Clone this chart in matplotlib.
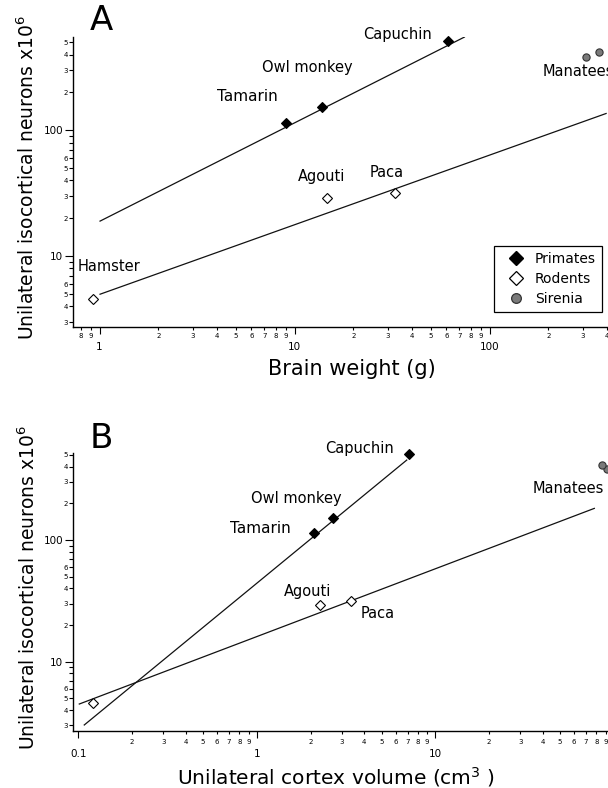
import numpy as np
import matplotlib
matplotlib.use('Agg')
import matplotlib.pyplot as plt
from matplotlib.ticker import FixedLocator, FuncFormatter
from matplotlib.lines import Line2D

plt.rcParams['font.family'] = ['DejaVu Sans']
plt.rcParams['mathtext.default'] = 'regular'

W, H = 608, 788

# ---------------- data ----------------
primate_names = ['Tamarin', 'Owl monkey', 'Capuchin']
rodent_names = ['Hamster', 'Agouti', 'Paca']
sirenia_names = ['Manatee 1', 'Manatee 2']

primate_neurons = [114, 153, 512]
rodent_neurons = [4.6, 29.0, 31.5]
sirenia_neurons = [385, 417]

primate_brain = [9.0, 13.8, 61.5]
rodent_brain = [0.93, 14.7, 32.8]
sirenia_brain = [312, 365]

primate_cortex = [2.09, 2.66, 7.12]
rodent_cortex = [0.121, 2.26, 3.36]
sirenia_cortex = [91.3, 86.2]

# fitted regression lines (end points)
fitA_primate_x = [1.006, 74.3]
fitA_primate_y = [19.0, 550.0]
fitA_rodent_x = [1.006, 396.0]
fitA_rodent_y = [4.99, 136.0]
fitB_primate_x = [0.108, 6.92]
fitB_primate_y = [3.02, 454.0]
fitB_rodent_x = [0.1013, 77.8]
fitB_rodent_y = [4.49, 182.0]

legend_labels = ['Primates', 'Rodents', 'Sirenia']

# ---------------- figure ----------------
fig = plt.figure(figsize=(W / 100, H / 100), dpi=100)


def px_rect(l, t, r, b):
    return [l / W, 1 - b / H, (r - l) / W, (b - t) / H]


decades = 10.0 ** np.arange(-2, 4)
minor_vals = [d * s for d in decades for s in range(2, 10)]


def minor_fmt(allowed):
    def f(v, pos):
        e = np.floor(np.log10(v) + 1e-9)
        d = int(round(v / 10 ** e))
        return str(d) if d in allowed else ''
    return FuncFormatter(f)


def style_axes(ax, xlim, ylim, x_minor_allowed, y_minor_allowed,
               xmaj_pad=5.5, xmin_pad=1.5):
    ax.set_xscale('log')
    ax.set_yscale('log')
    ax.set_xlim(*xlim)
    ax.set_ylim(*ylim)
    for s in ['top', 'right']:
        ax.spines[s].set_visible(False)
    for s in ['left', 'bottom']:
        ax.spines[s].set_linewidth(1.0)
    for axis in (ax.xaxis, ax.yaxis):
        axis.set_major_locator(FixedLocator(decades))
        axis.set_minor_locator(FixedLocator(minor_vals))
        axis.set_major_formatter(FuncFormatter(lambda v, p: f'{v:g}'))
    ax.xaxis.set_minor_formatter(minor_fmt(x_minor_allowed))
    ax.yaxis.set_minor_formatter(minor_fmt(y_minor_allowed))
    ax.tick_params(axis='x', which='major', length=5, width=0.8, pad=xmaj_pad,
                   labelsize=7.5, direction='out')
    ax.tick_params(axis='x', which='minor', length=2.5, width=0.8, pad=xmin_pad,
                   labelsize=5, direction='out')
    ax.tick_params(axis='y', which='major', length=5.5, width=0.8, pad=1.5,
                   labelsize=7.5, direction='out')
    ax.tick_params(axis='y', which='minor', length=3, width=0.8, pad=0.8,
                   labelsize=5, direction='out')


def draw_points(ax, xs, ys, kind):
    if kind == 'primate':
        ax.plot(xs, ys, 'D', ms=5.6, mfc='black', mec='black', mew=0.8,
                ls='none', zorder=4, clip_on=False)
    elif kind == 'rodent':
        ax.plot(xs, ys, 'D', ms=5.0, mfc='white', mec='black', mew=0.8,
                ls='none', zorder=4, clip_on=False)
    else:
        ax.plot(xs, ys, 'o', ms=5.2, mfc='#7a7a7a', mec='#333333', mew=0.8,
                ls='none', zorder=4)


def label(ax, x, y, text, dx, dy, size=10.5, ha='center'):
    ax.annotate(text, (x, y), xytext=(dx, dy), textcoords='offset pixels',
                ha=ha, va='center', fontsize=size)


# ---------------- Panel A ----------------
axA = fig.add_axes(px_rect(73, 36.5, 608, 327))
style_axes(axA, (0.731, 405), (2.74, 556), set(range(2, 10)), {2, 3, 4, 5, 6})
axA.plot(fitA_primate_x, fitA_primate_y, color='#111111', lw=0.9)
axA.plot(fitA_rodent_x, fitA_rodent_y, color='#111111', lw=0.9)
draw_points(axA, primate_brain, primate_neurons, 'primate')
draw_points(axA, rodent_brain, rodent_neurons, 'rodent')
draw_points(axA, sirenia_brain, sirenia_neurons, 'sirenia')

label(axA, primate_brain[0], primate_neurons[0], 'Tamarin', -38, 27, size=11)
label(axA, primate_brain[1], primate_neurons[1], 'Owl monkey', -15, 40)
label(axA, primate_brain[2], primate_neurons[2], 'Capuchin', -51, 7)
label(axA, rodent_brain[0], rodent_neurons[0], 'Hamster', 16, 32)
label(axA, rodent_brain[1], rodent_neurons[1], 'Agouti', -6, 21)
label(axA, rodent_brain[2], rodent_neurons[2], 'Paca', -8, 21)
label(axA, sirenia_brain[0], sirenia_neurons[0], 'Manatees', -43, -15, ha='left')

axA.set_xlabel('Brain weight (g)', fontsize=15)
axA.xaxis.set_label_coords(352 / W, 1 - 369 / H, transform=fig.transFigure)
axA.xaxis.label.set_va('center')
axA.set_ylabel('Unilateral isocortical neurons x10$^{6}$', fontsize=13.5)
axA.yaxis.set_label_coords(27 / W, 1 - 178 / H, transform=fig.transFigure)
axA.yaxis.label.set_va('center')

fig.text(101.5 / W, 1 - 21 / H, 'A', fontsize=24.5, ha='center', va='center')

handles = [
    Line2D([], [], marker='D', ls='none', ms=7.2, mfc='black', mec='black'),
    Line2D([], [], marker='D', ls='none', ms=6.8, mfc='white', mec='black', mew=0.9),
    Line2D([], [], marker='o', ls='none', ms=7.0, mfc='#7a7a7a', mec='#333333', mew=0.9),
]
leg = fig.legend(handles, legend_labels, loc='upper left',
                 bbox_to_anchor=(494 / W, 1 - 246 / H), borderaxespad=0,
                 fontsize=10, frameon=True, fancybox=False, framealpha=1,
                 edgecolor='black', handlelength=2.4, handletextpad=0.15,
                 borderpad=0.4, labelspacing=0.45)
leg.get_frame().set_linewidth(0.9)

# ---------------- Panel B ----------------
axB = fig.add_axes(px_rect(73, 453, 608, 730.7))
style_axes(axB, (0.0934, 92.8), (2.71, 519), set(range(2, 10)), {2, 3, 4, 5, 6},
           xmaj_pad=8.5, xmin_pad=3.5)
axB.plot(fitB_primate_x, fitB_primate_y, color='#111111', lw=0.9)
axB.plot(fitB_rodent_x, fitB_rodent_y, color='#111111', lw=0.9)
draw_points(axB, primate_cortex, primate_neurons, 'primate')
draw_points(axB, rodent_cortex, rodent_neurons, 'rodent')
draw_points(axB, sirenia_cortex, sirenia_neurons, 'sirenia')

label(axB, primate_cortex[0], primate_neurons[0], 'Tamarin', -54, 5, size=11)
label(axB, primate_cortex[1], primate_neurons[1], 'Owl monkey', -36, 19)
label(axB, primate_cortex[2], primate_neurons[2], 'Capuchin', -49, 5)
label(axB, rodent_cortex[1], rodent_neurons[1], 'Agouti', -12, 14)
label(axB, rodent_cortex[2], rodent_neurons[2], 'Paca', 27, -12)
label(axB, sirenia_cortex[1], sirenia_neurons[1], 'Manatees', -34, -24)

axB.set_xlabel('Unilateral cortex volume (cm$^{3}$ )', fontsize=14.5)
axB.xaxis.set_label_coords(336 / W, 1 - 777 / H, transform=fig.transFigure)
axB.xaxis.label.set_va('center')
axB.set_ylabel('Unilateral isocortical neurons x10$^{6}$', fontsize=13.5)
axB.yaxis.set_label_coords(28 / W, 1 - 588 / H, transform=fig.transFigure)
axB.yaxis.label.set_va('center')

fig.text(101 / W, 1 - 439 / H, 'B', fontsize=24.5, ha='center', va='center')

fig.savefig('out.png', dpi=100)
